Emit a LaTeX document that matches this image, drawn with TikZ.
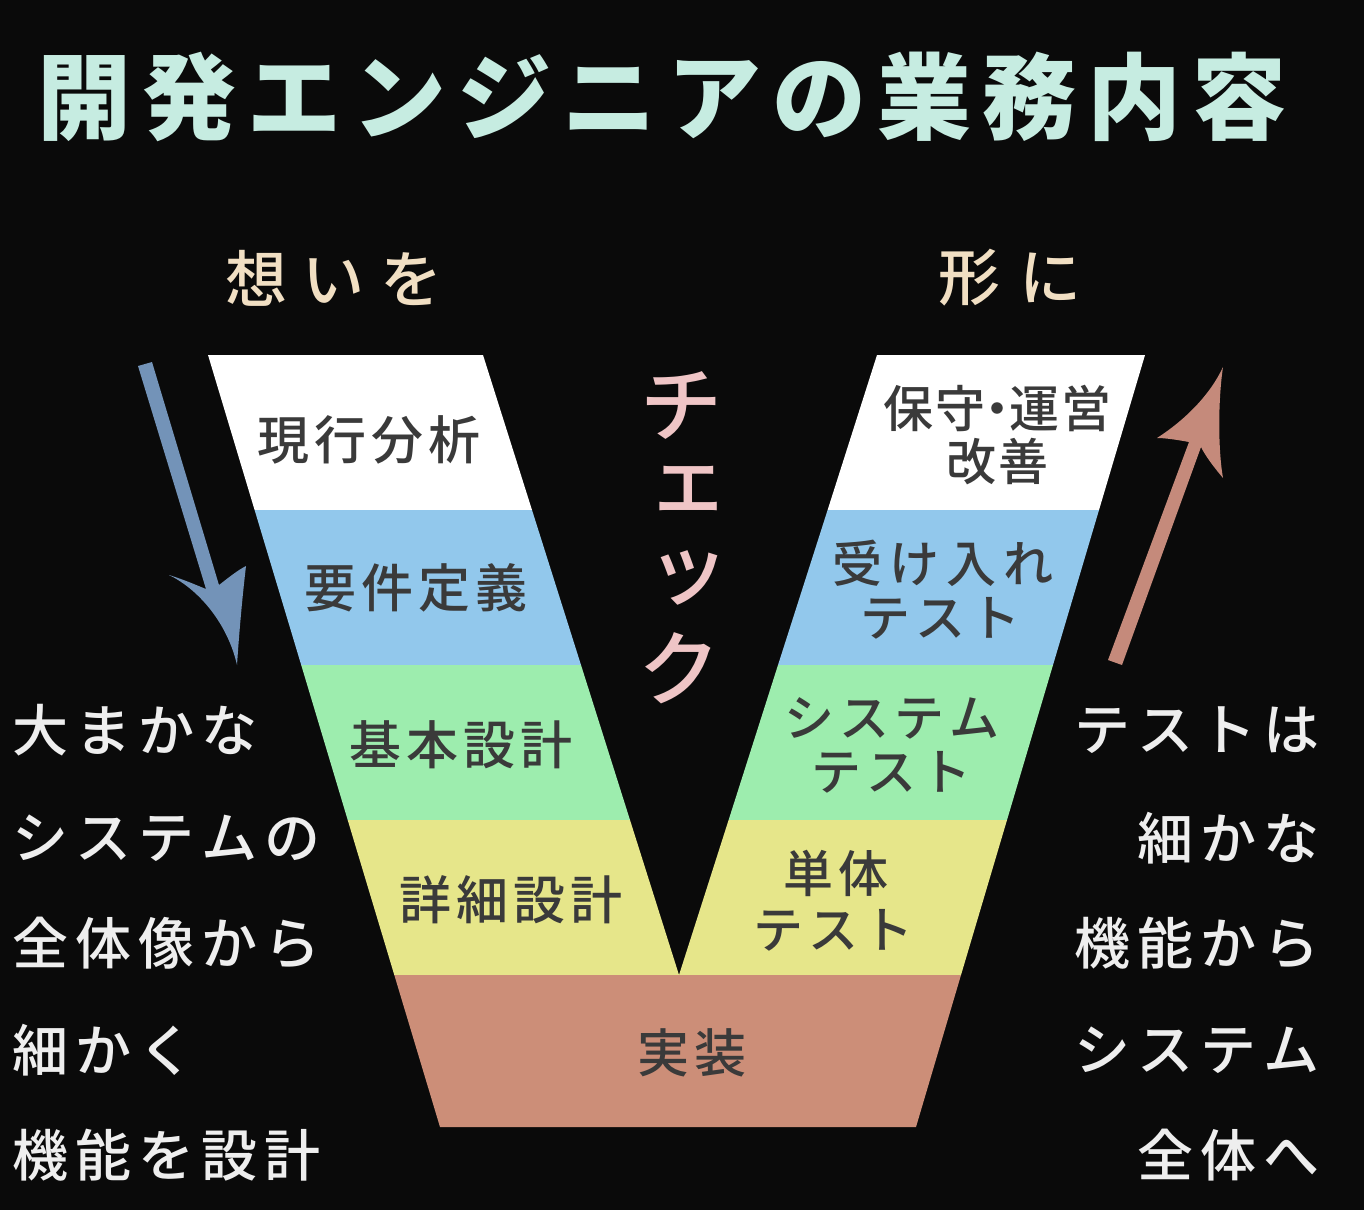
\documentclass[tikz,border=0pt]{standalone}
\usepackage{fontspec}
\newfontfamily\jp{Noto Sans CJK JP}
\newfontfamily\jpm{Noto Sans CJK JP Medium}
\definecolor{bg}{HTML}{0A0A0A}
\definecolor{ttl}{HTML}{C6ECE1}
\definecolor{beige}{HTML}{F1DFC3}
\definecolor{pinkc}{HTML}{EFC5C6}
\definecolor{lgray}{HTML}{EEEEEE}
\definecolor{dtext}{HTML}{3A3A3A}
\definecolor{cblue}{HTML}{92C8EC}
\definecolor{cgreen}{HTML}{9DEDAE}
\definecolor{cyellow}{HTML}{E6E68A}
\definecolor{csalmon}{HTML}{CC8E78}
\definecolor{arrblue}{HTML}{7393B8}
\definecolor{arrred}{HTML}{C58A7B}
\makeatletter
\newcommand\lsp[2]{\def\lsp@k{#1}\@tfor\lsp@c:=#2\do{\lsp@c\kern\lsp@k}\unkern}
\makeatother
\begin{document}
\begin{tikzpicture}[x=1pt,y=-1pt,
  lab/.style={text=dtext,inner sep=0pt,font={\jpm\fontsize{52}{55}\selectfont}},
  rlab/.style={text=dtext,inner sep=0pt,font={\jpm\fontsize{50}{55}\selectfont}},
  side/.style={text=lgray,inner sep=0pt,font={\jpm\fontsize{56}{60}\selectfont}},
  head/.style={text=beige,inner sep=0pt,font={\jpm\fontsize{62}{66}\selectfont}},
  chk/.style={text=pinkc,inner sep=0pt,font={\jpm\fontsize{82}{86}\selectfont}}]
\fill[bg] (0,0) rectangle (1364,1210);
\useasboundingbox (0,0) rectangle (1364,1210);
% title
\node[text=ttl,inner sep=0pt,font={\jp\bfseries\fontsize{94}{100}\selectfont}] (title) at (662,97) {\lsp{11pt}{開発エンジニアの業務内容}};
% headings
\node[head] (omoi) at (334,278) {\lsp{16pt}{想いを}};
\node[head] (katachi) at (1010,278) {\lsp{20pt}{形に}};
% V bands
\fill[white] (208,355) -- (483,355) -- (532,510) -- (254.6,510) -- cycle;
\fill[white] (877,355) -- (1145,355) -- (1099,510) -- (827.6,510) -- cycle;
\fill[cblue] (254.6,510) -- (532,510) -- (581,665) -- (301.2,665) -- cycle;
\fill[cblue] (827.6,510) -- (1099,510) -- (1053,665) -- (778,665) -- cycle;
\fill[cgreen] (301.2,665) -- (581,665) -- (630,820) -- (347.7,820) -- cycle;
\fill[cgreen] (778,665) -- (1053,665) -- (1007,820) -- (728.6,820) -- cycle;
\fill[cyellow] (347.7,820) -- (630,820) -- (679,975) -- (728.6,820) -- (1007,820) -- (961,975) -- (394.3,975) -- cycle;
\fill[csalmon] (394.3,975) -- (961,975) -- (916,1127) -- (440,1127) -- cycle;
% left labels
\node[lab] (genko) at (369,440) {\lsp{5pt}{現行分析}};
\node[lab] (yoken) at (416,588) {\lsp{5pt}{要件定義}};
\node[lab] (kihon) at (461,745) {\lsp{5pt}{基本設計}};
\node[lab] (shosai) at (511,900) {\lsp{5pt}{詳細設計}};
\node[lab] (jisso) at (692,1053) {\lsp{5pt}{実装}};
% right labels
\node[rlab] (hoshu) at (997,408) {\lsp{2pt}{保守}\kern-13pt・\kern-13pt\lsp{2pt}{運営}};
\node[rlab] (kaizen) at (997,462) {\lsp{2pt}{改善}};
\node[rlab] (ukeire) at (943,563) {\lsp{7pt}{受け入れ}};
\node[rlab] (test1) at (940,618) {\lsp{5pt}{テスト}};
\node[rlab] (system) at (892,718) {\lsp{5pt}{システム}};
\node[rlab] (test2) at (891,772) {\lsp{5pt}{テスト}};
\node[rlab] (tantai) at (836,873) {\lsp{5pt}{単体}};
\node[rlab] (test3) at (833,930) {\lsp{5pt}{テスト}};
% check
\node[chk] (c1) at (681,405) {チ};
\node[chk] (c2) at (688,488) {ェ};
\node[chk] (c3) at (688,578) {ッ};
\node[chk] (c4) at (679,668) {ク};
% side texts
\node[side,anchor=west] (l1) at (12,730) {\lsp{7pt}{大まかな}};
\node[side,anchor=west] (l2) at (12,838) {\lsp{7pt}{システムの}};
\node[side,anchor=west] (l3) at (12,943) {\lsp{7pt}{全体像から}};
\node[side,anchor=west] (l4) at (12,1050) {\lsp{7pt}{細かく}};
\node[side,anchor=west] (l5) at (12,1155) {\lsp{7pt}{機能を設計}};
\node[side,anchor=east] (r1) at (1320,730) {\lsp{7pt}{テストは}};
\node[side,anchor=east] (r2) at (1320,838) {\lsp{7pt}{細かな}};
\node[side,anchor=east] (r3) at (1320,943) {\lsp{7pt}{機能から}};
\node[side,anchor=east] (r4) at (1320,1050) {\lsp{7pt}{システム}};
\node[side,anchor=east] (r5) at (1320,1155) {\lsp{7pt}{全体へ}};
% blue arrow
\coordinate (b0l) at (138,366);
\coordinate (b0r) at (152,362);
\coordinate (bnr) at (219,585);
\coordinate (bbr) at (246,566);
\coordinate (btip) at (237,665);
\coordinate (bbl) at (169,575);
\coordinate (bnl) at (206,589);
\fill[arrblue] (b0l) -- (b0r) -- (bnr) .. controls (228,578) and (238,570) .. (bbr)
  .. controls (242,600) and (239,635) .. (btip)
  .. controls (228,625) and (200,590) .. (bbl)
  .. controls (185,580) and (196,585) .. (bnl) -- cycle;
% red arrow
\coordinate (r0l) at (1108,660);
\coordinate (r0r) at (1122,665);
\coordinate (rnl) at (1189,442);
\coordinate (rbl) at (1157,438);
\coordinate (rtip) at (1223,367);
\coordinate (rbr) at (1223,478);
\coordinate (rnr) at (1201,447);
\fill[arrred] (r0l) -- (rnl) .. controls (1178,440) and (1166,438) .. (rbl)
  .. controls (1185,420) and (1210,395) .. (rtip)
  .. controls (1218,400) and (1218,450) .. (rbr)
  .. controls (1212,465) and (1205,455) .. (rnr) -- (r0r) -- cycle;
\end{tikzpicture}
\end{document}
